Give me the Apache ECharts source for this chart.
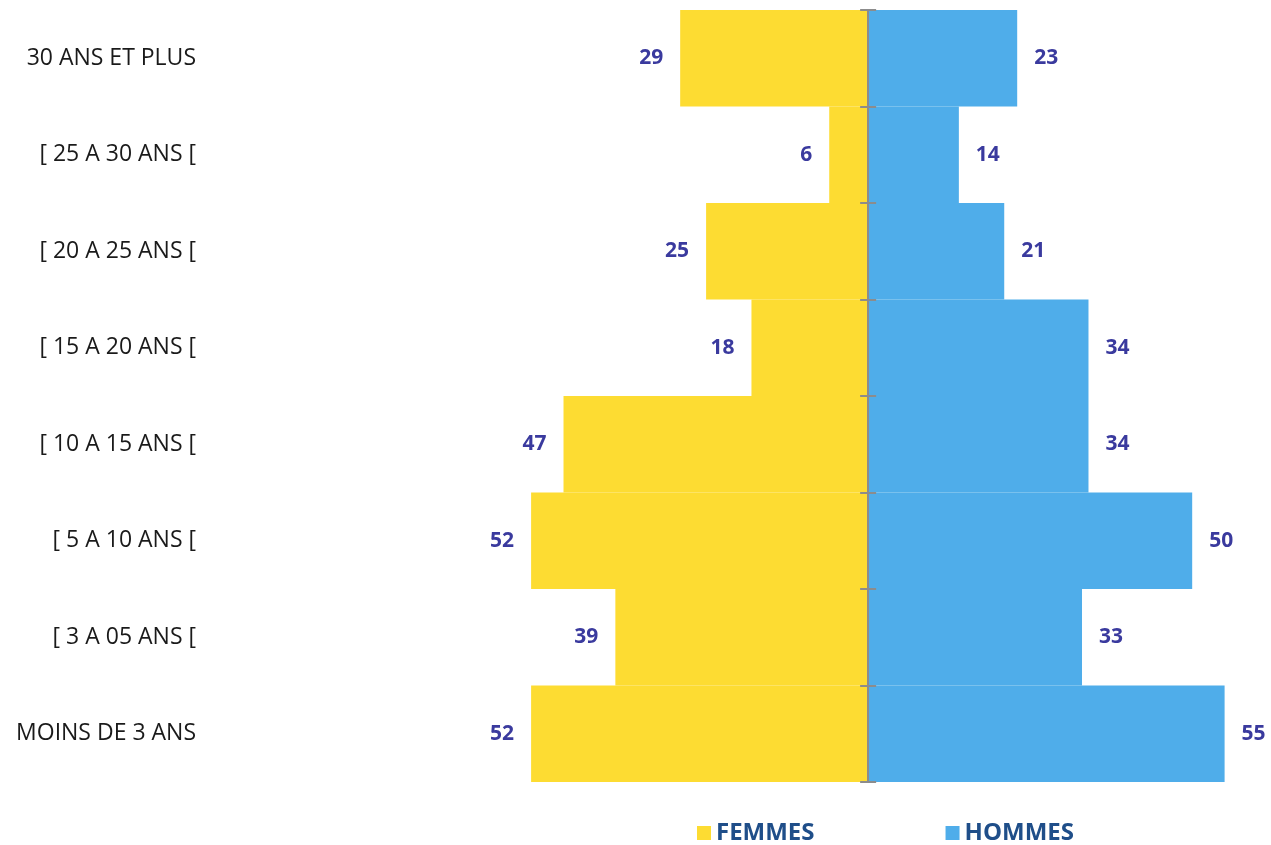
<!DOCTYPE html>
<html><head><meta charset="utf-8">
<script src="https://cdn.jsdelivr.net/npm/echarts@6/dist/echarts.min.js"></script>
<style>html,body{margin:0;padding:0;background:#fff}#c{width:1271px;height:845px}</style>
</head><body><div id="c"></div>
<script>
var categories = ['MOINS DE 3 ANS','[ 3 A 05 ANS [','[ 5 A 10 ANS [','[ 10 A 15 ANS [','[ 15 A 20 ANS [','[ 20 A 25 ANS [','[ 25 A 30 ANS [','30 ANS ET PLUS'];
var femmes = [52, 39, 52, 47, 18, 25, 6, 29];
var hommes = [55, 33, 50, 34, 34, 21, 14, 23];
var seriesNames = ['FEMMES','HOMMES'];

var GL = 220, GR = 14, W = 1271, XMIN = -100, XMAX = 60;
var gw = W - GL - GR;
var zeroX = GL + gw * (-XMIN) / (XMAX - XMIN);

var chart = echarts.init(document.getElementById('c'));
var labelStyle = {show:true, fontFamily:'Open Sans', fontWeight:'bold', fontSize:21, color:'#3A3A9E', distance:17};
var lineCol = '#8c8c8c';
chart.setOption({
  animation:false,
  grid:{left:GL, right:GR, top:10, bottom:63, containLabel:false, outerBoundsMode:'none'},
  xAxis:{type:'value', min:XMIN, max:XMAX, show:false},
  yAxis:[
    {type:'category', data:categories, position:'left',
     axisLine:{show:false, onZero:false}, axisTick:{show:false},
     axisLabel:{margin:24, fontFamily:'Open Sans', fontSize:23, color:'#1a1a1a'}},
    {type:'category', data:categories, position:'left', offset:-(zeroX-GL), z:5,
     axisLine:{show:true, onZero:false, lineStyle:{color:lineCol, width:2}},
     axisTick:{show:true, length:8, lineStyle:{color:lineCol, width:2}},
     axisLabel:{show:false}},
    {type:'category', data:categories, position:'right', offset:-(W-GR-zeroX), z:5,
     axisLine:{show:false, onZero:false},
     axisTick:{show:true, length:8, lineStyle:{color:lineCol, width:2}},
     axisLabel:{show:false}}
  ],
  legend:{left:692, bottom:-5, itemWidth:14, itemHeight:14, itemGap:131, icon:'rect',
    textStyle:{fontFamily:'Open Sans', fontWeight:'bold', fontSize:24, color:'#1F4E89'},
    data:seriesNames},
  series:[
    {name:seriesNames[0], type:'bar', stack:'t', barCategoryGap:'0%',
     itemStyle:{color:'#FDDC32'},
     data:femmes.map(function(v){return -v;}),
     label:Object.assign({position:'left', formatter:function(p){return Math.abs(p.value);}}, labelStyle)},
    {name:seriesNames[1], type:'bar', stack:'t', barCategoryGap:'0%',
     itemStyle:{color:'#4FADEA'},
     data:hommes,
     label:Object.assign({position:'right'}, labelStyle)}
  ]
});
</script></body></html>
